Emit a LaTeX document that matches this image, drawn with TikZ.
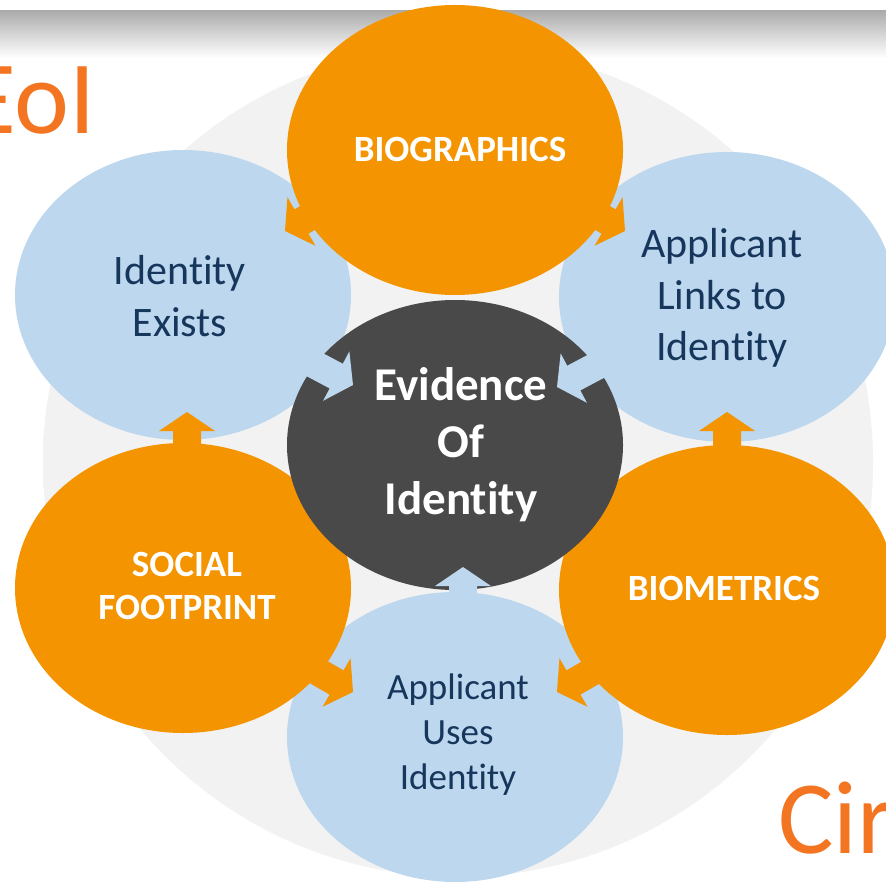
\documentclass[tikz,border=0pt]{standalone}
\usepackage{fontspec}
\setmainfont{Carlito}[Ligatures=NoCommon]
\usetikzlibrary{shapes.geometric}
\definecolor{orangeF}{RGB}{243,148,0}
\definecolor{lblue}{RGB}{189,215,238}
\definecolor{dgray}{RGB}{73,73,73}
\definecolor{navy}{RGB}{22,54,92}
\definecolor{txtorange}{RGB}{244,117,33}
\definecolor{bggray}{RGB}{242,242,242}
\definecolor{bandgray}{RGB}{172,172,172}
\pgfdeclareradialshading{bgdisc}{\pgfpoint{0bp}{0bp}}{color(0bp)=(bggray); color(44bp)=(bggray); color(50bp)=(white)}
\newcommand{\blockarrow}[4]{%
  \fill[#1, shift={(#2,#3)}, rotate=#4] (0,0) -- (-19,28) -- (-19,14) -- (-72,14) -- (-72,-14) -- (-19,-14) -- (-19,-28) -- cycle;}
\tikzset{
  blob/.style={ellipse, inner sep=0pt, minimum width=168pt, minimum height=145pt},
  lbtext/.style={text=navy, align=center, font=\fontsize{21pt}{25.8pt}\selectfont},
  lbtextsmall/.style={text=navy, align=center, font=\fontsize{18.5pt}{22.5pt}\selectfont},
  ortext/.style={text=white, align=center, font=\bfseries\fontsize{18.5pt}{21.5pt}\selectfont},
  cntext/.style={text=white, align=center, font=\bfseries\fontsize{23.5pt}{28.5pt}\selectfont},
  bigtext/.style={text=txtorange, inner sep=0pt, font=\fontsize{52pt}{60pt}\selectfont}
}
\begin{document}
\begin{tikzpicture}[x=0.5pt,y=0.5pt]
\useasboundingbox (0,0) rectangle (886,-881);
\fill[white] (0,0) rectangle (886,-881);
% top band
\shade[top color=bandgray, bottom color=white] (0,-11) rectangle (886,-58);
% background disc
\shade[shading=bgdisc] (458,-462) circle (415);
% side texts
\node[bigtext, anchor=base west] (eoi) at (-35,-134) {EoI};
\node[bigtext, anchor=base west] (cir) at (778,-853) {Cir};
% light blue ellipses
\node[blob, fill=lblue] (ie) at (183,-295) {};
\node[blob, fill=lblue] (al) at (727,-297) {};
\node[blob, fill=lblue] (au) at (455,-737) {};
% orange ellipses
\node[blob, fill=orangeF] (bg) at (455,-150) {};
\node[blob, fill=orangeF] (sf) at (183,-588) {};
\node[blob, fill=orangeF] (bm) at (727,-590) {};
% centre
\node[blob, fill=dgray] (ev) at (455,-445) {};
% arrows
\blockarrow{lblue}{353}{-385}{-28}
\blockarrow{lblue}{557}{-387}{208}
\blockarrow{lblue}{463}{-567}{90}
\blockarrow{orangeF}{285}{-231}{210}
\blockarrow{orangeF}{625}{-231}{-30}
\blockarrow{orangeF}{187}{-412}{90}
\blockarrow{orangeF}{727}{-412}{90}
\blockarrow{orangeF}{353}{-692}{-30}
\blockarrow{orangeF}{557}{-692}{210}
% texts
\node[ortext] (tbg) at (460,-149) {BIOGRAPHICS};
\node[lbtext] (tie) at (180,-296) {Identity\\Exists};
\node[lbtext] (tal) at (722,-298) {Applicant\\Links to\\Identity};
\node[cntext] (tev) at (461,-445) {Evidence\\Of\\Identity};
\node[ortext] (tsf) at (187,-586) {SOCIAL\\FOOTPRINT};
\node[ortext] (tbm) at (724,-588) {BIOMETRICS};
\node[lbtextsmall] (tau) at (458,-735) {Applicant\\Uses\\Identity};
\end{tikzpicture}
\end{document}
